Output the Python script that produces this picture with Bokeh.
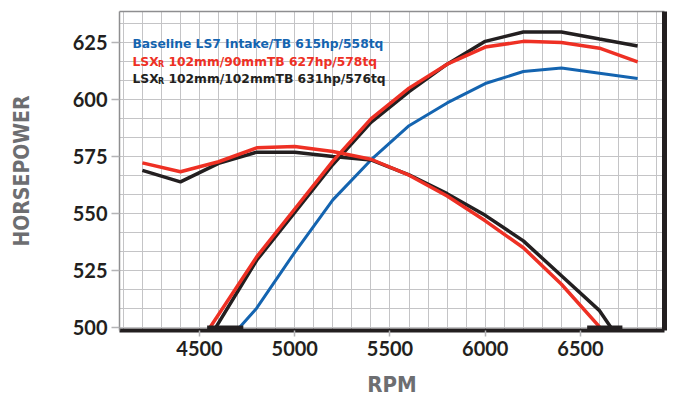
from bokeh.plotting import figure
from bokeh.models import Range1d, LinearAxis, SingleIntervalTicker, FixedTicker, Label, Grid
from bokeh.embed import file_html
from bokeh.resources import INLINE

# ---------------- data ----------------
X_TICKS = [4500, 5000, 5500, 6000, 6500]
Y_TICKS = [500, 525, 550, 575, 600, 625]

BASE_HP_RPM = [4710, 4800, 5000, 5200, 5400, 5600, 5800, 6000, 6200, 6400, 6600, 6800]
BASE_HP = [500, 508.5, 533, 556, 573.5, 588.5, 598.5, 607, 612.3, 613.8, 611.5, 609.2]

TB90_HP_RPM = [4555, 4800, 5000, 5200, 5400, 5600, 5800, 6000, 6200, 6400, 6600, 6800]
TB90_HP = [500, 531, 552, 573, 591.5, 605, 615.5, 623, 625.5, 625, 622.5, 616.5]
TB90_TQ_RPM = [4200, 4400, 4600, 4800, 5000, 5200, 5400, 5600, 5800, 6000, 6200, 6400, 6600]
TB90_TQ = [572.2, 568.3, 572.7, 578.8, 579.4, 577.2, 573.8, 566.8, 557.7, 546.8, 535, 519, 500.3]

TB102_HP_RPM = [4585, 4800, 5000, 5200, 5400, 5600, 5800, 6000, 6200, 6400, 6600, 6800]
TB102_HP = [500, 529.5, 550.5, 571.5, 590, 603.5, 615.5, 625.5, 629.6, 629.6, 626.5, 623.5]
TB102_TQ_RPM = [4200, 4400, 4600, 4800, 5000, 5200, 5400, 5600, 5800, 6000, 6200, 6400, 6600, 6660]
TB102_TQ = [568.9, 563.9, 572, 576.9, 576.9, 575, 573.5, 567, 558.7, 549.2, 538, 522.7, 507.4, 500]

# flat pieces lying on the 500 hp line
CLAMP_START = [4540, 6535]
CLAMP_END = [4730, 6720]
CLAMP_HP = [500, 500]

LEGEND_BASE = "Baseline LS7 Intake/TB 615hp/558tq"
LEGEND_90 = "102mm/90mmTB 627hp/578tq"
LEGEND_102 = "102mm/102mmTB 631hp/576tq"
LEGEND_PREFIX = "LSX"
LEGEND_SUB = "R"
X_TITLE = "RPM"
Y_TITLE = "HORSEPOWER"

X_START, X_END = 4080, 6941
Y_START, Y_END = 498.7, 638.6

BLUE = "#1464b0"
RED = "#ee3024"
BLACK = "#231f20"
GRID = "#c4c4c6"
FRAME_GRAY = "#8e8e90"
TITLE_GRAY = "#6d6e71"
TITLE_FONT = "'Liberation Sans Narrow', 'DejaVu Sans Condensed', sans-serif"

p = figure(width=670, height=400,
           x_range=Range1d(X_START, X_END), y_range=Range1d(Y_START, Y_END),
           output_backend="svg", toolbar_location=None,
           min_border_left=119, min_border_right=6, min_border_top=11, min_border_bottom=70)
p.outline_line_color = None
p.background_fill_color = "white"
p.border_fill_color = "white"

# grid: 100 rpm by 25/3 hp squares
p.grid.visible = False
p.add_layout(Grid(dimension=0, ticker=SingleIntervalTicker(interval=100, num_minor_ticks=0),
                  grid_line_color=GRID, grid_line_width=1))
p.add_layout(Grid(dimension=1, ticker=SingleIntervalTicker(interval=25 / 3, num_minor_ticks=0),
                  grid_line_color=GRID, grid_line_width=1))

# bottom axis
xa = p.xaxis[0]
xa.ticker = FixedTicker(ticks=X_TICKS)
xa.axis_line_color = BLACK
xa.axis_line_width = 4
xa.major_tick_line_color = "#b4b4b6"
xa.major_tick_line_width = 1.5
xa.major_tick_out = 6
xa.major_tick_in = 0
xa.minor_tick_line_color = None
xa.major_label_text_font = "Lato"
xa.major_label_text_font_style = "bold"
xa.major_label_text_font_size = "20px"
xa.major_label_text_color = BLACK
xa.major_label_standoff = 4
xa.axis_label = X_TITLE
xa.axis_label_text_font = TITLE_FONT
xa.axis_label_text_font_style = "bold"
xa.axis_label_text_font_size = "22px"
xa.axis_label_text_color = TITLE_GRAY
xa.axis_label_standoff = 13

# left axis
ya = p.yaxis[0]
ya.ticker = FixedTicker(ticks=Y_TICKS)
ya.axis_line_color = FRAME_GRAY
ya.axis_line_width = 1.5
ya.major_tick_line_color = "#b4b4b6"
ya.major_tick_line_width = 1.5
ya.major_tick_out = 8
ya.major_tick_in = 0
ya.minor_tick_line_color = None
ya.major_label_text_font = "Lato"
ya.major_label_text_font_style = "bold"
ya.major_label_text_font_size = "20px"
ya.major_label_text_color = BLACK
ya.major_label_standoff = 4
ya.axis_label = Y_TITLE
ya.axis_label_text_font = TITLE_FONT
ya.axis_label_text_font_style = "bold"
ya.axis_label_text_font_size = "21px"
ya.axis_label_text_color = TITLE_GRAY
ya.axis_label_standoff = 36

# top (gray) and right (thick black) frame lines
for loc, col, w in (("above", FRAME_GRAY, 1.5), ("right", BLACK, 5)):
    ax = LinearAxis(ticker=FixedTicker(ticks=[]), axis_line_color=col, axis_line_width=w,
                    major_tick_line_color=None, minor_tick_line_color=None,
                    major_label_text_font_size="0px")
    p.add_layout(ax, loc)

# curves
p.line(BASE_HP_RPM, BASE_HP, line_color=BLUE, line_width=3)
p.line(TB102_TQ_RPM, TB102_TQ, line_color=BLACK, line_width=3.5)
p.line(TB102_HP_RPM, TB102_HP, line_color=BLACK, line_width=3.5)
p.line(TB90_TQ_RPM, TB90_TQ, line_color=RED, line_width=3.5)
p.line(TB90_HP_RPM, TB90_HP, line_color=RED, line_width=3.5)
p.segment(x0=CLAMP_START, y0=CLAMP_HP, x1=CLAMP_END, y1=CLAMP_HP,
          line_color=BLACK, line_width=4)

# legend text
LEG_X = 4148
LEG_Y = [624.3, 616.6, 609.2]
LEG_FONT = "DejaVu Sans"
LEG_SIZE = "12.3px"

def leg(text, y, color, x_offset=0, y_offset=0, size=LEG_SIZE):
    p.add_layout(Label(x=LEG_X, y=y, text=text, x_offset=x_offset, y_offset=y_offset,
                       text_font=LEG_FONT, text_font_style="bold", text_font_size=size,
                       text_color=color, text_baseline="middle", text_align="left"))

leg(LEGEND_BASE, LEG_Y[0], BLUE)
for y, color, rest in ((LEG_Y[1], RED, LEGEND_90), (LEG_Y[2], BLACK, LEGEND_102)):
    leg(LEGEND_PREFIX, y, color)
    leg(LEGEND_SUB, y, color, x_offset=25.5, y_offset=-3, size="8px")
    leg(rest, y, color, x_offset=36)

open("out.html", "w").write(file_html(p, INLINE))
